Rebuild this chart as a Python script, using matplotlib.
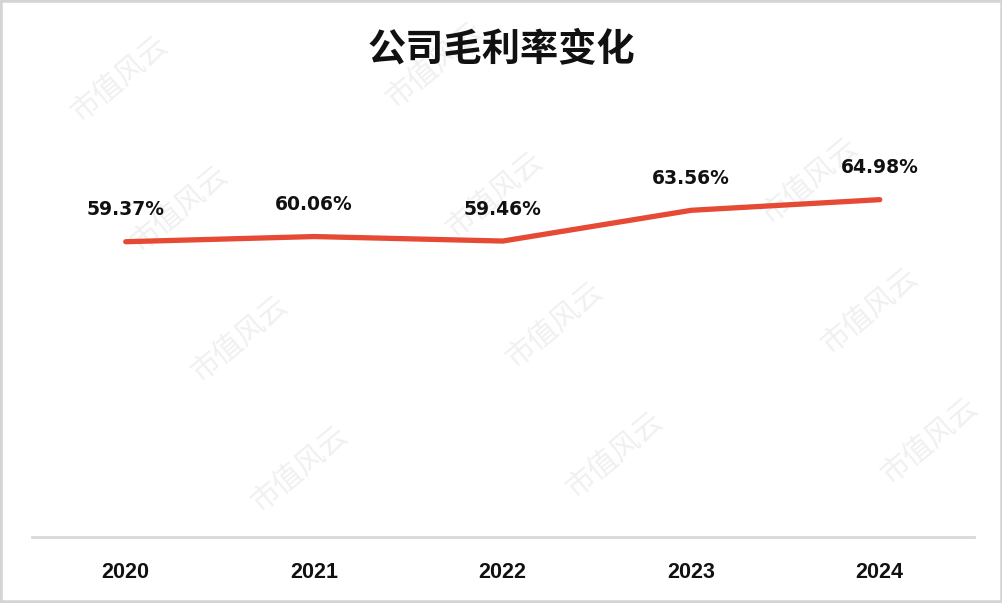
import matplotlib
matplotlib.use("Agg")
import matplotlib.pyplot as plt
from matplotlib.patches import Rectangle

plt.rcParams['font.family'] = ['Noto Sans CJK SC', 'DejaVu Sans']

# data
years = ['2020', '2021', '2022', '2023', '2024']
gross_margin = [59.37, 60.06, 59.46, 63.56, 64.98]
title = '公司毛利率变化'
watermark = '市值风云'

fig = plt.figure(figsize=(10.03, 6.03), dpi=100)
W, H = 1003, 603

# faint watermark grid (pixel lattice, converted to figure fraction)
for i in range(-2, 4):
    for j in range(-3, 3):
        px = 240 + i * 315 + j * 60
        py = 340 - i * 14 + j * 130
        if 70 < px < W - 70 and 55 < py < H - 55:
            fig.text(px / W, 1 - py / H, watermark, fontsize=21, color='#F0F0F0',
                     fontweight='light', rotation=40, ha='center', va='center',
                     zorder=-5)

ax = fig.add_axes([31.5 / W, (H - 537) / H, 942.5 / W, 375 / H])
ax.patch.set_alpha(0)

x = list(range(len(years)))
ax.plot(x, gross_margin, color='#E64A35', linewidth=3.8,
        solid_capstyle='round', solid_joinstyle='round', zorder=3)

for xi, v in zip(x, gross_margin):
    ax.annotate(f'{v:.2f}%', (xi, v), xytext=(0, 23), textcoords='offset points',
                ha='center', va='center', fontsize=13.5, fontweight='bold',
                family='DejaVu Sans', color='#111111')

ax.set_xlim(-0.5, len(years) - 0.5)
ax.set_ylim(20, 70)
ax.set_yticks([])
ax.set_xticks(x)
ax.set_xticklabels(years, fontsize=15.5, fontweight='bold',
                   family=['Liberation Sans', 'DejaVu Sans'])
ax.tick_params(axis='x', length=0, pad=18, colors='#111111')
for side in ['top', 'right', 'left']:
    ax.spines[side].set_visible(False)
ax.spines['bottom'].set_color('#D9D9D9')
ax.spines['bottom'].set_linewidth(2)

fig.text(0.5, 1 - 49 / H, title, ha='center', va='center', fontsize=27.5,
         fontweight='bold', color='#111111')

fig.patches.append(Rectangle((0, 0), 1, 1, transform=fig.transFigure, fill=False,
                             edgecolor='#D4D4D4', linewidth=4, zorder=10))

fig.savefig('out.png', dpi=100)
